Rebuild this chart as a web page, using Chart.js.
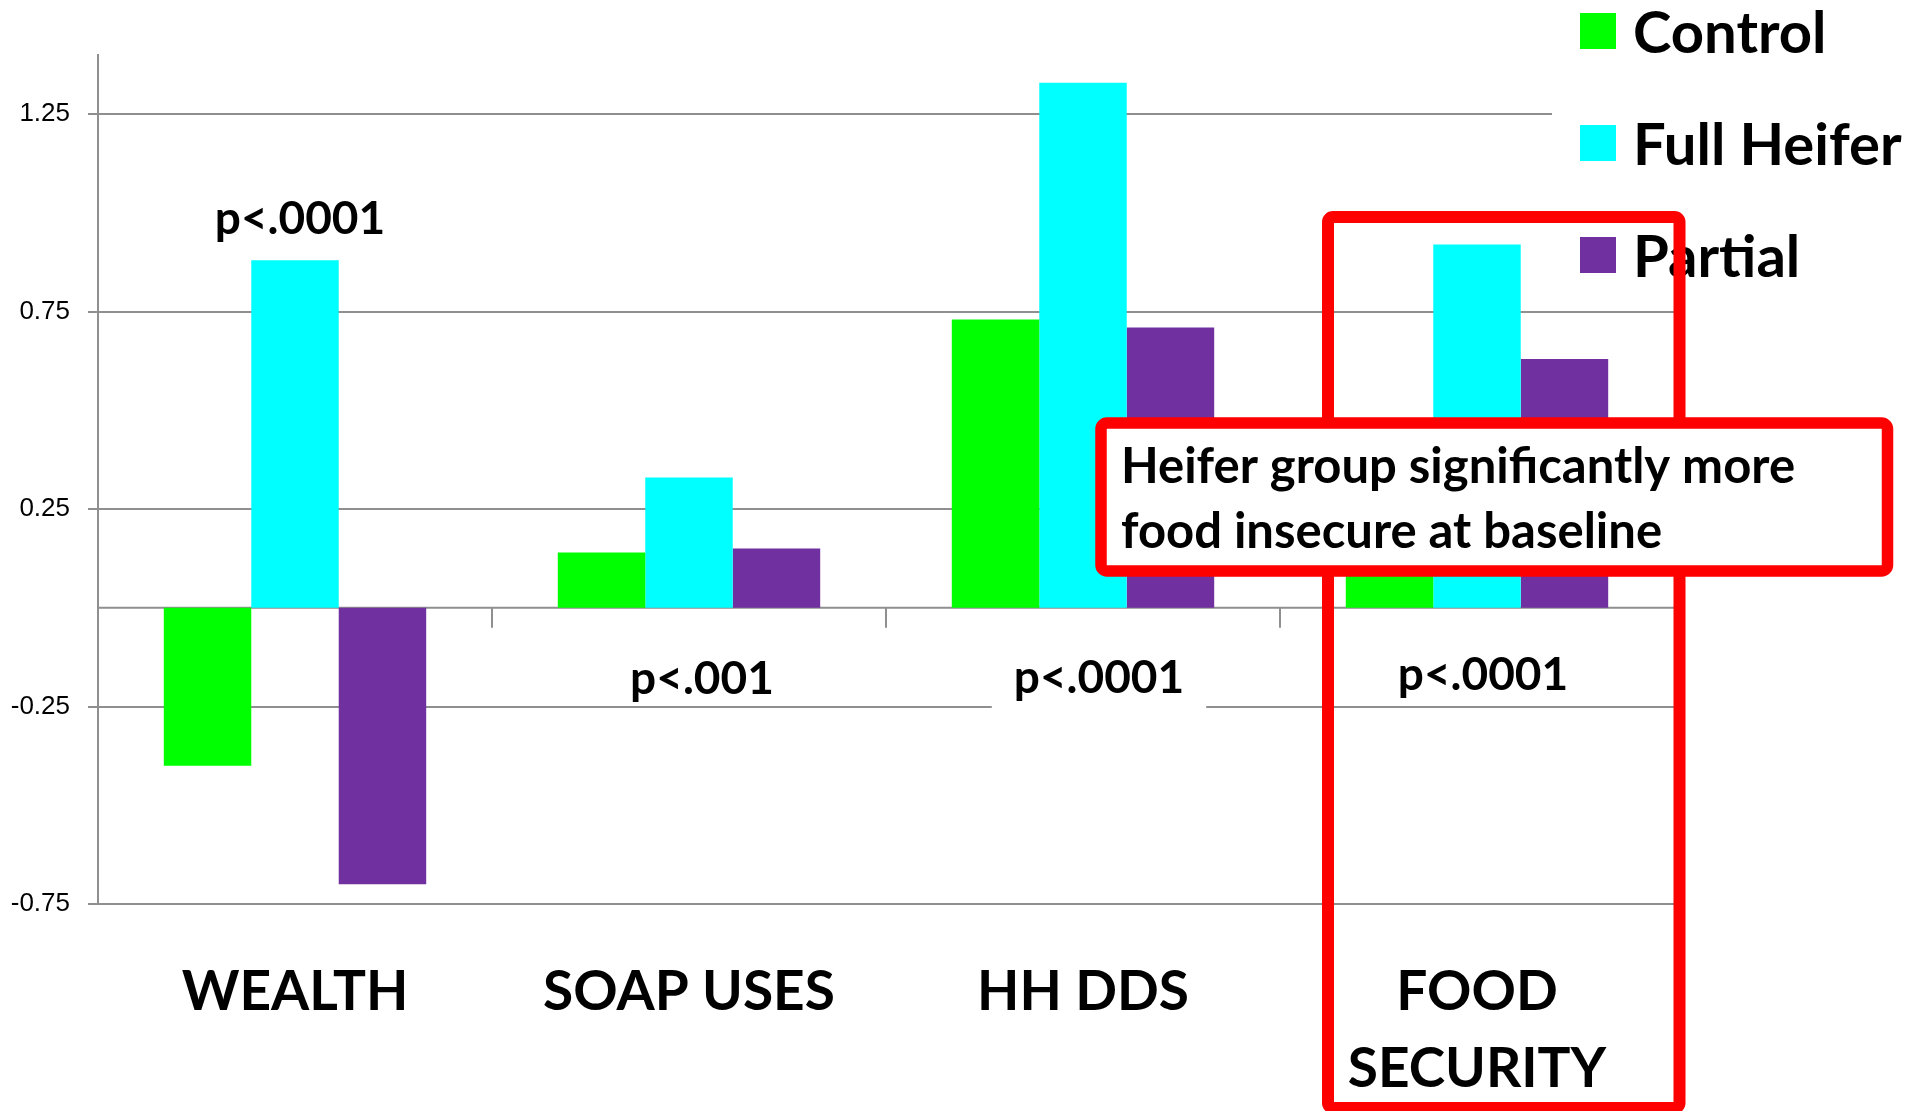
<!DOCTYPE html>
<html>
<head>
<meta charset="utf-8">
<script src="https://cdn.jsdelivr.net/npm/chart.js@4.4.1/dist/chart.umd.min.js"></script>
<style>
  html, body { margin: 0; padding: 0; background: #fff; }
  #wrap { width: 1913px; height: 1111px; }
</style>
</head>
<body>
<div id="wrap"><canvas id="chart" width="1913" height="1111"></canvas></div>
<script>
// chart data
const categories = [['WEALTH'], ['SOAP USES'], ['HH DDS'], ['FOOD', 'SECURITY']];
const seriesNames = ['Control', 'Full Heifer', 'Partial'];
const controlValues = [-0.40, 0.14, 0.73, 0.35];
const fullHeiferValues = [0.88, 0.33, 1.33, 0.92];
const partialValues = [-0.70, 0.15, 0.71, 0.63];
const yTickValues = [-0.75, -0.25, 0.25, 0.75, 1.25];
const pValueLabels = ['p<.0001', 'p<.001', 'p<.0001', 'p<.0001'];
const calloutLines = ['Heifer group significantly more', 'food insecure at baseline'];

// styling
const seriesColors = ['#00ff00', '#00ffff', '#7030a0'];
const gridColor = '#8f8f8f';
const red = '#ff0000';
const boldFont = '"Lato", "Open Sans", sans-serif';

// where the p-value notes sit: offset from category centre, value of baseline
const pLabelLayout = [
  { dx: 5, y: 0.947, patch: false },
  { dx: 13, y: -0.217, patch: false },
  { dx: 16, y: -0.215, patch: true },
  { dx: 6, y: -0.208, patch: false },
];

function roundRectPath(ctx, x, y, w, h, r) {
  ctx.beginPath();
  ctx.roundRect(x, y, w, h, r);
}

const overlayPlugin = {
  id: 'overlay',
  beforeDatasetsDraw(chart) {
    const { ctx, chartArea, scales: { x, y } } = chart;
    const y0 = y.getPixelForValue(0);
    ctx.save();
    // zero line with category separators
    ctx.strokeStyle = gridColor;
    ctx.lineWidth = 2;
    ctx.beginPath();
    ctx.moveTo(chartArea.left, y0);
    ctx.lineTo(chartArea.right, y0);
    for (let i = 1; i < categories.length; i++) {
      const bx = Math.round((x.getPixelForValue(i - 1) + x.getPixelForValue(i)) / 2);
      ctx.moveTo(bx, y0);
      ctx.lineTo(bx, y0 + 20);
    }
    ctx.stroke();

    // white patch behind a p label (hides the gridline)
    ctx.font = `bold 46px ${boldFont}`;
    pLabelLayout.forEach((p, i) => {
      if (!p.patch) return;
      const cx = x.getPixelForValue(i) + p.dx;
      const by = y.getPixelForValue(p.y);
      const w = ctx.measureText(pValueLabels[i]).width + 44;
      ctx.fillStyle = '#fff';
      ctx.fillRect(cx - w / 2, by - 48, w, 67);
    });
    ctx.restore();
  },
  afterDatasetsDraw(chart) {
    const { ctx, scales: { x, y } } = chart;
    ctx.save();

    // p-value notes
    ctx.fillStyle = '#000';
    ctx.font = `bold 46px ${boldFont}`;
    ctx.textAlign = 'center';
    ctx.textBaseline = 'alphabetic';
    pLabelLayout.forEach((p, i) => {
      ctx.fillText(pValueLabels[i], x.getPixelForValue(i) + p.dx, y.getPixelForValue(p.y));
    });

    // legend
    ctx.fillStyle = '#fff';
    ctx.fillRect(1552, 0, 361, 290);
    ctx.textAlign = 'left';
    ctx.font = `bold 58px ${boldFont}`;
    chart.data.datasets.forEach((ds, i) => {
      const cy = 31 + i * 112;
      ctx.fillStyle = ds.backgroundColor;
      ctx.fillRect(1580, cy - 18, 36, 36);
      ctx.fillStyle = '#000';
      ctx.fillText(ds.label, 1633, cy + 22);
    });

    // tall highlight box round FOOD SECURITY
    ctx.strokeStyle = red;
    ctx.lineWidth = 12;
    roundRectPath(ctx, 1328, 217, 351.5, 891, 5);
    ctx.stroke();

    // callout
    roundRectPath(ctx, 1101, 423, 786.5, 148, 6);
    ctx.fillStyle = '#fff';
    ctx.fill();
    ctx.lineWidth = 11.5;
    ctx.stroke();
    ctx.fillStyle = '#000';
    ctx.font = `bold 49px ${boldFont}`;
    ctx.fillText(calloutLines[0], 1121, 483);
    ctx.fillText(calloutLines[1], 1121, 548);

    ctx.restore();
  }
};

new Chart(document.getElementById('chart'), {
  type: 'bar',
  data: {
    labels: categories,
    datasets: [
      { label: seriesNames[0], data: controlValues, backgroundColor: seriesColors[0] },
      { label: seriesNames[1], data: fullHeiferValues, backgroundColor: seriesColors[1] },
      { label: seriesNames[2], data: partialValues, backgroundColor: seriesColors[2] },
    ],
  },
  options: {
    responsive: false,
    animation: false,
    layout: { padding: { top: 55, right: 239, left: 0, bottom: 0 } },
    datasets: {
      bar: { categoryPercentage: 0.666, barPercentage: 1.0, borderWidth: 0 },
    },
    plugins: {
      legend: { display: false },
      tooltip: { enabled: false },
    },
    scales: {
      x: {
        grid: { display: false },
        border: { display: false },
        ticks: {
          color: '#000',
          autoSkip: false,
          maxRotation: 0,
          padding: 42,
          font: { family: boldFont, weight: 'bold', size: 55, lineHeight: 1.4 },
        },
        afterFit(scale) { scale.height = 207; },
      },
      y: {
        min: -0.75,
        max: 1.4,
        afterBuildTicks(scale) {
          scale.ticks = yTickValues.map(v => ({ value: v }));
        },
        grid: { color: gridColor, lineWidth: 2, tickLength: 10 },
        border: { color: gridColor, width: 2 },
        ticks: {
          color: '#000',
          padding: 18,
          font: { family: '"Liberation Sans", Arial, sans-serif', size: 26 },
          callback: v => String(v),
        },
        afterFit(scale) { scale.width = 98; },
      },
    },
  },
  plugins: [overlayPlugin],
});
</script>
</body>
</html>
